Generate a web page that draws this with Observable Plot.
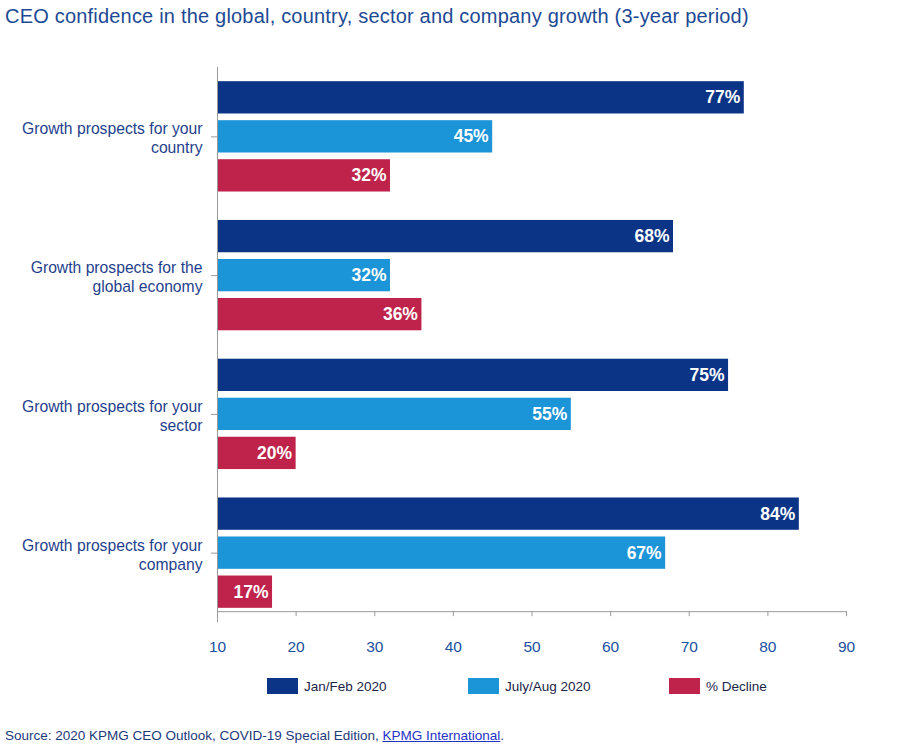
<!DOCTYPE html>
<html>
<head>
<meta charset="utf-8">
<script src="https://cdn.jsdelivr.net/npm/d3@7"></script>
<script src="https://cdn.jsdelivr.net/npm/@observablehq/plot@0.6"></script>
<style>
  html, body { margin: 0; padding: 0; background: #fff; }
  #wrap { position: relative; width: 900px; height: 750px; font-family: "Liberation Sans", Arial, Helvetica, sans-serif; }
  #title { position: absolute; left: 5px; top: 6px; font-size: 20px; letter-spacing: 0.2px; line-height: 1; color: #1d4a94; white-space: nowrap; }
  #chart { position: absolute; left: 0; top: 40px; }
  #legend { position: absolute; left: 0; top: 678px; width: 900px; height: 16px; }
  .item { position: absolute; top: 0; height: 16px; display: flex; align-items: center; font-size: 13.5px; color: #1b2547; white-space: nowrap; }
  .sw { width: 31px; height: 16px; margin-right: 6px; }
  #source { position: absolute; left: 5px; top: 729px; font-size: 13.5px; line-height: 1; color: #1d3a7a; white-space: nowrap; }
  #source a { color: #2432c8; text-decoration: underline; }
  #chart svg [aria-label^="x-axis"] text { fill: #2150a0; font-size: 15.5px; }
</style>
</head>
<body>
<div id="wrap">
  <div id="title">CEO confidence in the global, country, sector and company growth (3-year period)</div>
  <div id="chart"></div>
  <div id="legend"></div>
  <div id="source">Source: 2020 KPMG CEO Outlook, COVID-19 Special Edition, <a href="#">KPMG International</a>.</div>
</div>
<script>
// ---- data ----
const groups = [
  "Growth prospects for your\ncountry",
  "Growth prospects for the\nglobal economy",
  "Growth prospects for your\nsector",
  "Growth prospects for your\ncompany"
];
const series = ["Jan/Feb 2020", "July/Aug 2020", "% Decline"];
const janFeb = [77, 68, 75, 84];
const julyAug = [45, 32, 55, 67];
const decline = [32, 36, 20, 17];
const colors = ["#0b3487", "#1b94d8", "#bf234b"];
const xTicks = [10, 20, 30, 40, 50, 60, 70, 80, 90];

const seriesValues = [janFeb, julyAug, decline];
const rows = [];
groups.forEach((g, i) => {
  series.forEach((s, j) => rows.push({group: g, series: s, value: seriesValues[j][i]}));
});

const font = '"Liberation Sans", Arial, Helvetica, sans-serif';

const chart = Plot.plot({
  width: 900,
  height: 630,
  marginTop: 27,
  marginBottom: 48,
  marginLeft: 217,
  marginRight: 54,
  style: {fontFamily: font, fontSize: "15px", color: "#9a9a9a", background: "white", overflow: "visible"},
  x: {domain: [xTicks[0], xTicks[xTicks.length - 1]], ticks: xTicks, tickSize: 5, tickPadding: 24, line: true, label: null},
  y: {domain: series, axis: null, paddingInner: 0.172, paddingOuter: 0.086, round: false},
  fy: {domain: groups, paddingInner: 0.1565, paddingOuter: 0.078, axis: "left", tickSize: 6, tickFormat: () => "", label: null, round: false},
  color: {domain: series, range: colors},
  facet: {data: rows, y: "group"},
  marks: [
    Plot.barX(rows, {x1: () => xTicks[0], x2: "value", y: "series", fill: "series"}),
    Plot.text(rows, {
      x: "value", y: "series", text: d => d.value + "%",
      textAnchor: "end", dx: -4, fill: "white", fontWeight: "bold", fontSize: 17.5
    }),
    Plot.text(rows, {
      filter: d => d.series === series[1],
      y: "series", frameAnchor: "left", dx: -15, dy: 1, text: "group",
      textAnchor: "end", fill: "#1f3f8c", fontSize: 15.7, lineHeight: 1.2
    }),
    Plot.ruleX([xTicks[0]], {stroke: "#9a9a9a", insetTop: -11, insetBottom: -11})
  ]
});
document.getElementById("chart").appendChild(chart);

// legend
const legend = document.getElementById("legend");
series.forEach((s, i) => {
  const item = document.createElement("div");
  item.className = "item";
  item.style.left = (267 + i * 201) + "px";
  const sw = document.createElement("div");
  sw.className = "sw";
  sw.style.background = colors[i];
  const label = document.createElement("span");
  label.textContent = s;
  item.appendChild(sw);
  item.appendChild(label);
  legend.appendChild(item);
});
</script>
</body>
</html>
